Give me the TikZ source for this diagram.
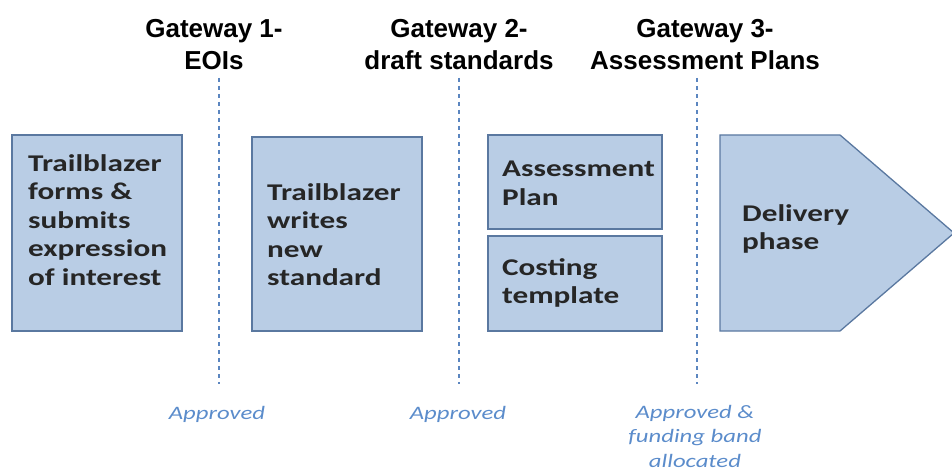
\documentclass[tikz,border=0pt]{standalone}
\usepackage{fontspec}
\setmainfont{Liberation Sans}
\newfontfamily\boxfont[FakeStretch=1.3]{Carlito}
\newfontfamily\headfont{Liberation Sans}
\definecolor{boxfill}{HTML}{B9CDE5}
\definecolor{boxline}{HTML}{5A78A0}
\definecolor{boxtext}{HTML}{262626}
\definecolor{gateline}{HTML}{5B86C0}
\definecolor{apprtext}{HTML}{5B8CCB}
\tikzset{
  stagebox/.style={fill=boxfill, draw=boxline, line width=1.3pt},
  boxlabel/.style={anchor=north west, align=left, inner sep=0pt, text=boxtext,
    font=\boxfont\bfseries\fontsize{24}{28.5}\selectfont},
  gatehead/.style={align=center, inner sep=0pt, text=black,
    font=\headfont\bfseries\fontsize{26}{32}\selectfont},
  gateline/.style={draw=gateline, line width=1.6pt, dash pattern=on 4pt off 4pt},
  apprlabel/.style={align=center, inner sep=0pt, text=apprtext,
    font=\boxfont\itshape\fontsize{19}{24.5}\selectfont},
}
\begin{document}
\begin{tikzpicture}[x=1pt,y=-1pt]
\useasboundingbox (0,0) rectangle (952,470);
% headings (anchor base = baseline of last line)
\node[gatehead, anchor=base] (h1) at (214,70) {Gateway 1-\\EOIs};
\node[gatehead, anchor=base] (h2) at (459,70) {Gateway 2-\\draft standards};
\node[gatehead, anchor=base] (h3) at (705,70) {Gateway 3-\\Assessment Plans};
% gateway dashed lines
\coordinate (g1t) at (219,78); \coordinate (g1b) at (219,384);
\coordinate (g2t) at (459,78); \coordinate (g2b) at (459,384);
\coordinate (g3t) at (697,78); \coordinate (g3b) at (697,384);
\draw[gateline] (g1t) -- (g1b);
\draw[gateline] (g2t) -- (g2b);
\draw[gateline] (g3t) -- (g3b);
% boxes
\draw[stagebox] (12,135) rectangle (182,331);
\draw[stagebox] (252,137) rectangle (422,331);
\draw[stagebox] (488,135) rectangle (662,229);
\draw[stagebox] (488,236) rectangle (662,331);
\draw[stagebox] (720,135) -- (840,135) -- (954,233) -- (840,331) -- (720,331) -- cycle;
% box texts
\node[boxlabel] (t1) at (28,154) {Trailblazer\\forms \&\\submits\\expression\\of interest};
\node[boxlabel] (t2) at (267,183) {Trailblazer\\writes\\new\\standard};
\node[boxlabel] (t3) at (502,161) {Assessment\\Plan};
\node[boxlabel] (t4) at (502,258) {Costing\\template};
\node[boxlabel] (t5) at (742,204) {Delivery\\phase};
% approved labels
\node[apprlabel, anchor=base] (a1) at (217,419) {Approved};
\node[apprlabel, anchor=base] (a2) at (458,419) {Approved};
\node[apprlabel, anchor=base] (a3) at (695,467) {Approved \&\\funding band\\allocated};
\end{tikzpicture}
\end{document}
